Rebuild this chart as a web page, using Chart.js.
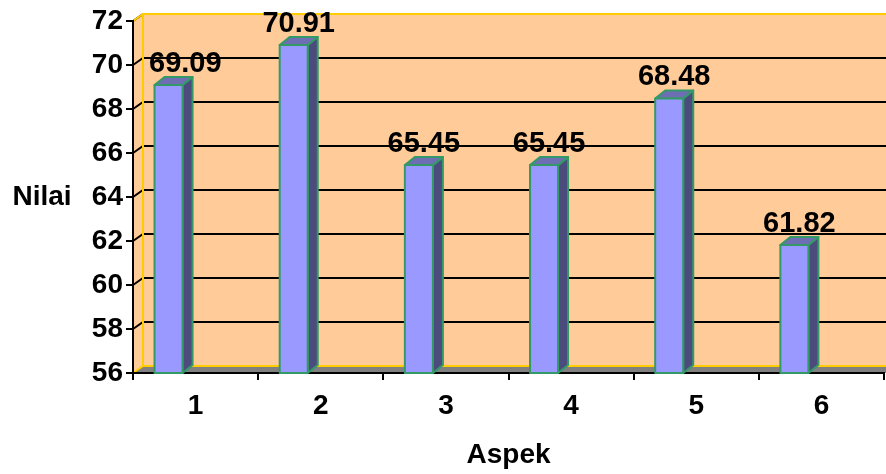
<!DOCTYPE html>
<html>
<head>
<meta charset="utf-8">
<script src="https://cdn.jsdelivr.net/npm/chart.js@4.4.0/dist/chart.umd.min.js"></script>
<style>
  html, body { margin: 0; padding: 0; background: #ffffff; }
  #wrap { width: 886px; height: 474px; position: relative; }
</style>
</head>
<body>
<div id="wrap"><canvas id="c" width="886" height="474"></canvas></div>
<script>
const categories = ['1', '2', '3', '4', '5', '6'];
const values = [69.09, 70.91, 65.45, 65.45, 68.48, 61.82];
const valueLabels = ['69.09', '70.91', '65.45', '65.45', '68.48', '61.82'];
const yTitle = 'Nilai';
const xTitle = 'Aspek';

const FONT = '"Liberation Sans", Arial, Helvetica, sans-serif';
const DX = 10, DY = -7;          // 3D depth offset
const BAR_DX = 10, BAR_DY = -8;  // bar depth
const WALL = '#FFCC99';
const WALL_EDGE = '#FFCC00';

const wallsPlugin = {
  id: 'walls',
  beforeDraw(chart) {
    const {ctx, chartArea: a, scales} = chart;
    const W = chart.width;
    const y = scales.y;
    ctx.save();
    // back wall
    ctx.fillStyle = WALL;
    ctx.fillRect(a.left + DX, a.top + DY, W - a.left - DX, a.bottom - a.top);
    // side wall
    ctx.beginPath();
    ctx.moveTo(a.left, a.top);
    ctx.lineTo(a.left + DX, a.top + DY);
    ctx.lineTo(a.left + DX, a.bottom + DY);
    ctx.lineTo(a.left, a.bottom);
    ctx.closePath();
    ctx.fill();
    // floor
    ctx.fillStyle = '#808080';
    ctx.beginPath();
    ctx.moveTo(a.left, a.bottom);
    ctx.lineTo(a.left + DX, a.bottom + DY);
    ctx.lineTo(W, a.bottom + DY);
    ctx.lineTo(W, a.bottom);
    ctx.closePath();
    ctx.fill();
    // gridlines on back wall and side wall
    ctx.strokeStyle = '#000000';
    ctx.lineWidth = 2;
    y.ticks.forEach(t => {
      const py = y.getPixelForValue(t.value);
      if (t.value === y.min) return;
      ctx.beginPath();
      ctx.moveTo(a.left, py);
      ctx.lineTo(a.left + DX, py + DY);
      if (t.value !== y.max) ctx.lineTo(W, py + DY);
      ctx.stroke();
    });
    // yellow wall edges
    ctx.strokeStyle = WALL_EDGE;
    ctx.lineWidth = 2;
    ctx.beginPath();
    ctx.moveTo(a.left, a.top);
    ctx.lineTo(a.left + DX, a.top + DY);
    ctx.lineTo(W, a.top + DY);
    ctx.moveTo(a.left + DX, a.top + DY);
    ctx.lineTo(a.left + DX, a.bottom + DY);
    ctx.lineTo(W, a.bottom + DY);
    ctx.moveTo(a.left, a.bottom);
    ctx.lineTo(a.left + DX, a.bottom + DY);
    ctx.stroke();
    // y title (horizontal)
    ctx.fillStyle = '#000000';
    ctx.font = 'bold 28px ' + FONT;
    ctx.textAlign = 'center';
    ctx.textBaseline = 'middle';
    ctx.fillText(yTitle, 42, (a.top + a.bottom) / 2);
    ctx.restore();
  }
};

const bars3dPlugin = {
  id: 'bars3d',
  afterDatasetsDraw(chart) {
    const {ctx, chartArea: a, scales} = chart;
    const meta = chart.getDatasetMeta(0);
    const catW = (a.right - a.left) / categories.length;
    const shift = catW * 0.216;
    const base = scales.y.getPixelForValue(scales.y.min);
    ctx.save();
    meta.data.forEach((el, i) => {
      const w = el.width;
      const x1 = el.x - shift - w / 2;
      const x2 = x1 + w;
      const top = el.y;
      ctx.lineJoin = 'round';
      ctx.lineWidth = 2;
      ctx.strokeStyle = '#339966';
      // side
      ctx.fillStyle = '#4B4B7E';
      ctx.beginPath();
      ctx.moveTo(x2, top);
      ctx.lineTo(x2 + BAR_DX, top + BAR_DY);
      ctx.lineTo(x2 + BAR_DX, base + BAR_DY);
      ctx.lineTo(x2, base);
      ctx.closePath();
      ctx.fill();
      ctx.stroke();
      // top
      ctx.fillStyle = '#6E6EB4';
      ctx.beginPath();
      ctx.moveTo(x1, top);
      ctx.lineTo(x1 + BAR_DX, top + BAR_DY);
      ctx.lineTo(x2 + BAR_DX, top + BAR_DY);
      ctx.lineTo(x2, top);
      ctx.closePath();
      ctx.fill();
      ctx.stroke();
      // front
      ctx.fillStyle = '#9999FF';
      ctx.fillRect(x1, top, w, base - top);
      ctx.strokeRect(x1, top, w, base - top);
      // value label
      ctx.fillStyle = '#000000';
      ctx.font = 'bold 29px ' + FONT;
      ctx.textAlign = 'center';
      ctx.textBaseline = 'alphabetic';
      const tw = ctx.measureText(valueLabels[i]).width;
      let lx = x1 + w / 2 + 5;
      lx = Math.max(lx, a.left + 16 + tw / 2);
      ctx.fillText(valueLabels[i], lx, top - 13);
    });
    ctx.restore();
  }
};

new Chart(document.getElementById('c'), {
  type: 'bar',
  data: {
    labels: categories,
    datasets: [{
      data: values,
      backgroundColor: 'rgba(0,0,0,0)',
      borderWidth: 0,
      categoryPercentage: 1.0,
      barPercentage: 0.224
    }]
  },
  options: {
    responsive: false,
    animation: false,
    devicePixelRatio: 1,
    layout: { padding: { left: 0, right: 2, top: 21, bottom: 0 } },
    plugins: { legend: { display: false }, tooltip: { enabled: false } },
    scales: {
      x: {
        offset: true,
        grid: { display: true, drawOnChartArea: false, drawTicks: true, tickLength: 7, color: '#000000', lineWidth: 2, offset: true },
        border: { display: true, color: '#000000', width: 2 },
        ticks: { color: '#000000', font: { family: FONT, size: 28, weight: 'bold' }, padding: 9, maxRotation: 0 },
        title: { display: true, text: xTitle, color: '#000000', font: { family: FONT, size: 28, weight: 'bold' }, padding: { top: 0, bottom: 2 } },
        afterFit(scale) { scale.height = 101; }
      },
      y: {
        min: 56,
        max: 72,
        grid: { display: true, drawOnChartArea: false, drawTicks: true, tickLength: 7, color: '#000000', lineWidth: 2 },
        border: { display: true, color: '#000000', width: 2 },
        ticks: { stepSize: 2, color: '#000000', font: { family: FONT, size: 28, weight: 'bold' }, padding: 3 },
        afterFit(scale) { scale.width = 133; }
      }
    }
  },
  plugins: [wallsPlugin, bars3dPlugin]
});
</script>
</body>
</html>
